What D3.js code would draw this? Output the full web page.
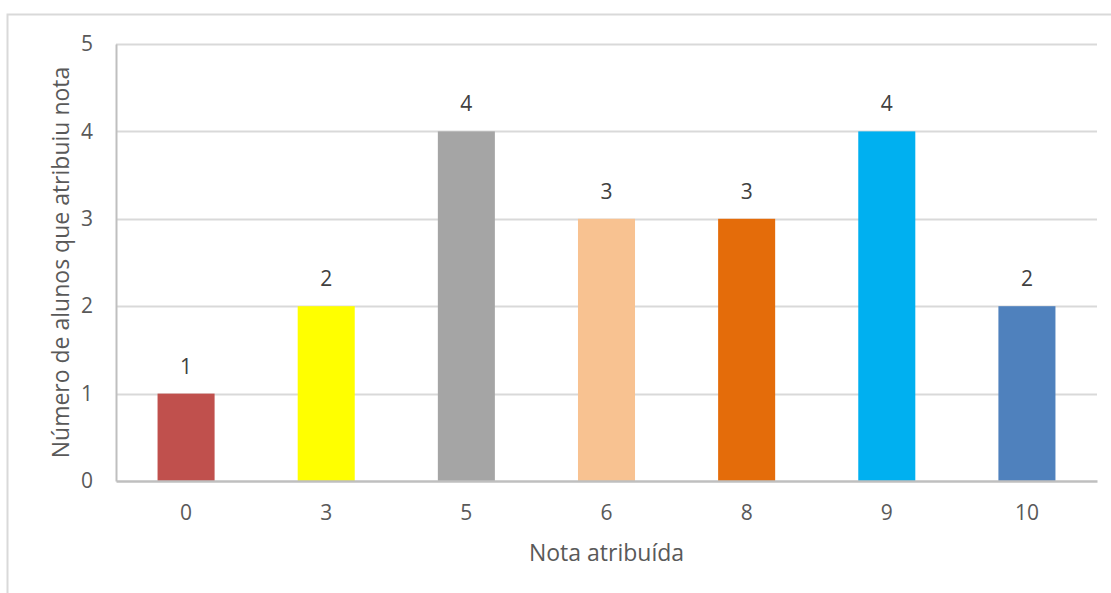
<!DOCTYPE html>
<html>
<head>
<meta charset="utf-8">
<script src="https://cdn.jsdelivr.net/npm/d3@7"></script>
<style>
  html, body { margin: 0; padding: 0; background: #fff; }
  svg { display: block; font-family: "Open Sans", "Noto Sans", sans-serif; }
</style>
</head>
<body>
<svg id="chart" width="1111" height="593"></svg>
<script>
// Grades given and how many students gave each one
const grades = ["0", "3", "5", "6", "8", "9", "10"];
const studentCounts = [1, 2, 4, 3, 3, 4, 2];
const barColors = ["#c0504d", "#ffff00", "#a5a5a5", "#f8c291", "#e46c0a", "#00b0f0", "#4f81bd"];
const yTicks = [0, 1, 2, 3, 4, 5];
const xTitle = "Nota atribuída";
const yTitle = "Número de alunos que atribuiu nota";

const svg = d3.select("#chart");
const textColor = "#595959";
const labelSize = 21;
const titleSize = 23;

// Chart frame
svg.append("rect")
  .attr("x", 7.5).attr("y", 14.5)
  .attr("width", 1200).attr("height", 700)
  .attr("fill", "#fff").attr("stroke", "#d9d9d9").attr("stroke-width", 2);

const plot = { left: 116, right: 1097, top: 44, bottom: 481 };

const x = d3.scaleBand()
  .domain(grades)
  .range([plot.left, plot.right])
  .paddingInner(0.593)
  .paddingOuter(0.2965);

const y = d3.scaleLinear()
  .domain([0, 5])
  .range([plot.bottom, plot.top]);

// Horizontal gridlines
svg.append("g")
  .selectAll("line")
  .data(yTicks.filter(t => t > 0))
  .join("line")
  .attr("x1", plot.left).attr("x2", plot.right)
  .attr("y1", d => Math.round(y(d)) + 0.5).attr("y2", d => Math.round(y(d)) + 0.5)
  .attr("stroke", "#d9d9d9").attr("stroke-width", 2);

// Bars
svg.append("g")
  .selectAll("rect")
  .data(grades)
  .join("rect")
  .attr("x", d => x(d))
  .attr("width", x.bandwidth())
  .attr("y", (d, i) => y(studentCounts[i]))
  .attr("height", (d, i) => y(0) - y(studentCounts[i]))
  .attr("fill", (d, i) => barColors[i]);

// Value labels
svg.append("g")
  .selectAll("text")
  .data(grades)
  .join("text")
  .attr("x", d => x(d) + x.bandwidth() / 2)
  .attr("y", (d, i) => y(studentCounts[i]) - 20)
  .attr("text-anchor", "middle")
  .style("font-size", labelSize + "px")
  .attr("fill", "#404040")
  .text((d, i) => studentCounts[i]);

// Y axis
const yAxis = svg.append("g")
  .attr("transform", `translate(${plot.left},0)`)
  .call(d3.axisLeft(y).tickValues(yTicks).tickFormat(d3.format("d")).tickSize(0).tickPadding(23));
yAxis.attr("font-family", null).attr("font-size", null);
yAxis.select(".domain").attr("stroke", "#bfbfbf").attr("stroke-width", 2);
yAxis.selectAll("text").style("font-size", labelSize + "px").attr("fill", textColor);

// X axis
const xAxis = svg.append("g")
  .attr("transform", `translate(0,${plot.bottom})`)
  .call(d3.axisBottom(x).tickSize(0).tickPadding(24));
xAxis.attr("font-family", null).attr("font-size", null);
xAxis.select(".domain").attr("stroke", "#bfbfbf").attr("stroke-width", 2.5);
xAxis.selectAll("text").style("font-size", labelSize + "px").attr("fill", textColor);

// Axis titles
svg.append("text")
  .attr("x", (plot.left + plot.right) / 2)
  .attr("y", 561)
  .attr("text-anchor", "middle")
  .style("font-size", titleSize + "px")
  .attr("fill", textColor)
  .text(xTitle);

svg.append("text")
  .attr("transform", `translate(69,${(plot.top + plot.bottom) / 2}) rotate(-90)`)
  .attr("text-anchor", "middle")
  .style("font-size", titleSize + "px")
  .attr("fill", textColor)
  .text(yTitle);
</script>
</body>
</html>
